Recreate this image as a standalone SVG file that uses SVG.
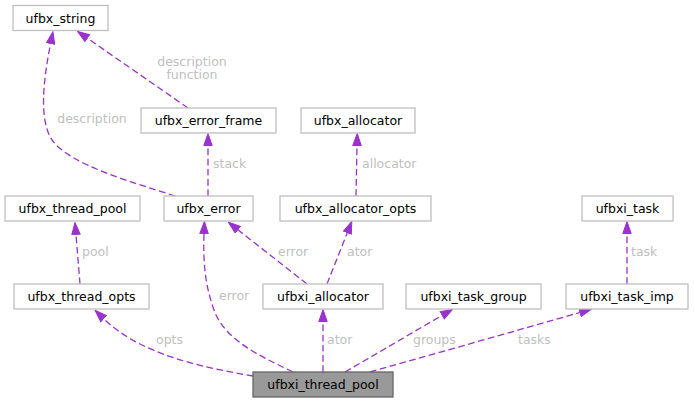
<svg xmlns="http://www.w3.org/2000/svg" width="694" height="403" viewBox="0 0 694 403">
<style>
.node rect{fill:#ffffff;stroke:#bfbfbf;stroke-width:1.3}
.node.main rect{fill:#999999;stroke:#666666}
.node text{font-family:"DejaVu Sans",sans-serif;font-size:12.5px;fill:#000000;text-anchor:middle}
.edge path{fill:none;stroke:#9a32cd;stroke-width:1.3;stroke-dasharray:6.7,3.5;marker-end:url(#arr)}
.lbl{font-family:"DejaVu Sans",sans-serif;font-size:12.5px;fill:#c0c0c0}
</style>
<defs>
<marker id="arr" viewBox="0 0 13 10" refX="0" refY="5" markerWidth="13" markerHeight="10" markerUnits="userSpaceOnUse" orient="auto">
<path d="M0.5,0.8 L12.5,5 L0.5,9.2 z" fill="#9a32cd" stroke="#9a32cd" stroke-width="1"/>
</marker>
</defs>
<rect width="694" height="403" fill="#ffffff"/>
<g id="connectors">
<g class="edge"><path d="M188,108 L87.7,38.4"/></g>
<text class="lbl" x="192" y="65.5" text-anchor="middle">description</text>
<text class="lbl" x="192" y="79" text-anchor="middle">function</text>
<g class="edge"><path d="M175,196 C132,182 70,165 52,140 C39,120 43,82 50.5,44"/></g>
<text class="lbl" x="92" y="123" text-anchor="middle">description</text>
<g class="edge"><path d="M208,196 L208,146"/></g>
<text class="lbl" x="213" y="168">stack</text>
<g class="edge"><path d="M356,196 L357,146"/></g>
<text class="lbl" x="362" y="168">allocator</text>
<g class="edge"><path d="M627,284 L627,234"/></g>
<text class="lbl" x="631" y="256">task</text>
<g class="edge"><path d="M80,284 L76,235"/></g>
<text class="lbl" x="82" y="256">pool</text>
<g class="edge"><path d="M307,284 L238.2,230"/></g>
<text class="lbl" x="278" y="256">error</text>
<g class="edge"><path d="M327,284 L347.2,233.1"/></g>
<text class="lbl" x="347" y="256">ator</text>
<g class="edge"><path d="M293,372 C258,355 225,340 214,310 C205,285 203,262 204,234"/></g>
<text class="lbl" x="219" y="300">error</text>
<g class="edge"><path d="M253,376 C200,367 140,354 104,319"/></g>
<text class="lbl" x="156" y="344">opts</text>
<g class="edge"><path d="M323,372 L323,322"/></g>
<text class="lbl" x="327" y="344">ator</text>
<g class="edge"><path d="M345,372 L441.8,315.6"/></g>
<text class="lbl" x="413" y="344">groups</text>
<g class="edge"><path d="M370,372 C420,358 515,331 579.5,312.6"/></g>
<text class="lbl" x="518" y="344">tasks</text>
</g>
<g id="ufbx_string" class="node"><rect x="13" y="5.5" width="95" height="25"/><text x="60.5" y="22.5">ufbx_string</text></g>
<g id="ufbx_error_frame" class="node"><rect x="141" y="108" width="135" height="25"/><text x="208.5" y="125">ufbx_error_frame</text></g>
<g id="ufbx_allocator" class="node"><rect x="301" y="108" width="114" height="25"/><text x="358" y="125">ufbx_allocator</text></g>
<g id="ufbx_thread_pool" class="node"><rect x="5" y="196" width="135" height="25"/><text x="72.5" y="213">ufbx_thread_pool</text></g>
<g id="ufbx_error" class="node"><rect x="164" y="196" width="89" height="25"/><text x="208.5" y="213">ufbx_error</text></g>
<g id="ufbx_allocator_opts" class="node"><rect x="280" y="196" width="151" height="25"/><text x="355.5" y="213">ufbx_allocator_opts</text></g>
<g id="ufbxi_task" class="node"><rect x="582" y="196" width="91" height="25"/><text x="627.5" y="213">ufbxi_task</text></g>
<g id="ufbx_thread_opts" class="node"><rect x="14" y="284" width="135" height="25"/><text x="81.5" y="301">ufbx_thread_opts</text></g>
<g id="ufbxi_allocator" class="node"><rect x="263" y="284" width="120" height="25"/><text x="323" y="301">ufbxi_allocator</text></g>
<g id="ufbxi_task_group" class="node"><rect x="406" y="284" width="135" height="25"/><text x="473.5" y="301">ufbxi_task_group</text></g>
<g id="ufbxi_task_imp" class="node"><rect x="566" y="284" width="122" height="25"/><text x="627" y="301">ufbxi_task_imp</text></g>
<g id="ufbxi_thread_pool" class="node main"><rect x="253" y="372" width="140" height="25"/><text x="323" y="389">ufbxi_thread_pool</text></g>
</svg>
